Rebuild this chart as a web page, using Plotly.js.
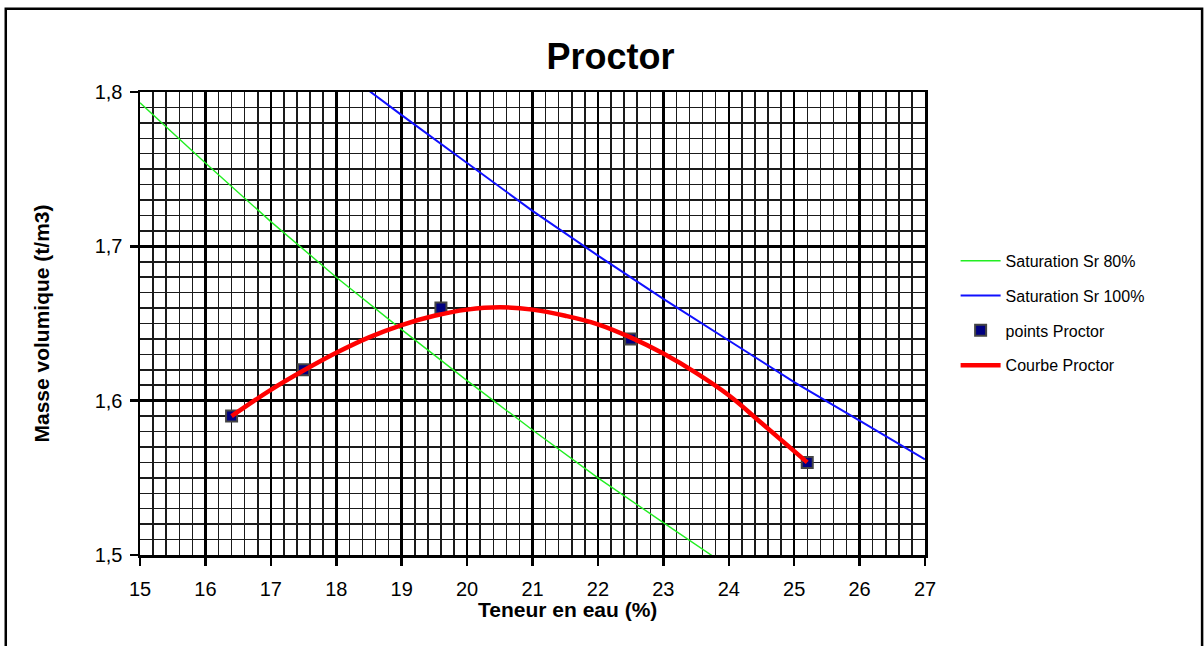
<!DOCTYPE html>
<html>
<head>
<meta charset="utf-8">
<script src="https://cdn.plot.ly/plotly-3.0.1.min.js"></script>
<style>
  html, body { margin: 0; padding: 0; background: #fff; }
  #chart { width: 1204px; height: 646px; }
</style>
</head>
<body>
<div id="chart"></div>
<script>
// Saturation Sr 80%
const sat80W = [15, 16, 17, 18, 19, 20, 21, 22, 23, 23.8];
const sat80D = [1.793, 1.754, 1.716, 1.680, 1.646, 1.613, 1.581, 1.550, 1.521, 1.498];
// Saturation Sr 100%
const sat100W = [18.4, 19, 20, 21, 22, 23, 24, 25, 26, 27];
const sat100D = [1.804, 1.785, 1.754, 1.723, 1.694, 1.666, 1.639, 1.612, 1.587, 1.562];
// points Proctor
const pointsW = [16.4, 17.5, 19.6, 22.5, 25.2];
const pointsD = [1.59, 1.62, 1.66, 1.64, 1.56];
// Courbe Proctor
const curveW = [16.4, 17.0, 17.5, 18.0, 18.5, 19.0, 19.5, 20.0, 20.5, 21.0, 21.5, 22.0, 22.5, 23.0, 23.5, 24.0, 24.5, 25.2];
const curveD = [1.590, 1.607, 1.6195, 1.631, 1.641, 1.649, 1.655, 1.659, 1.6605, 1.659, 1.655, 1.6495, 1.641, 1.6305, 1.618, 1.6035, 1.5855, 1.560];
// tick values
const xTicks = [15, 16, 17, 18, 19, 20, 21, 22, 23, 24, 25, 26, 27];
const yTicks = [1.5, 1.6, 1.7, 1.8];

const traces = [
  { x: sat80W, y: sat80D, name: 'Saturation Sr 80%', mode: 'lines', legendgroup: 'a', legendrank: 1,
    line: { color: '#22ee22', width: 1.4 } },
  { x: sat100W, y: sat100D, name: 'Saturation Sr 100%', mode: 'lines', legendgroup: 'b', legendrank: 2,
    line: { color: '#1010ff', width: 2 } },
  { x: pointsW, y: pointsD, name: 'points Proctor', mode: 'markers', legendgroup: 'c', legendrank: 3,
    marker: { symbol: 'square', size: 11, color: '#000080', line: { color: '#444444', width: 2 } } },
  { x: curveW, y: curveD, name: 'Courbe Proctor', mode: 'lines', legendgroup: 'd', legendrank: 4,
    line: { color: '#ff0000', width: 4.5, shape: 'spline', smoothing: 1.1 } }
];

const fontFam = 'Liberation Sans, Arial, sans-serif';
const layout = {
  width: 1204, height: 646,
  margin: { l: 140, r: 279, t: 92, b: 91 },
  paper_bgcolor: '#ffffff', plot_bgcolor: '#ffffff',
  separators: ',.',
  font: { family: fontFam, color: '#000' },
  title: { text: '<b>Proctor</b>', x: 0.507, xref: 'container', xanchor: 'center',
           y: 0.912, yref: 'container', yanchor: 'middle',
           font: { size: 36, family: fontFam, color: '#000' } },
  showlegend: true,
  legend: { x: 1.039, xanchor: 'left', y: 0.672, yanchor: 'top',
            font: { size: 16, family: fontFam, color: '#000' },
            tracegroupgap: 11, traceorder: 'grouped', itemwidth: 40,
            bgcolor: 'rgba(0,0,0,0)' },
  xaxis: {
    range: [15, 27], tickvals: xTicks, ticks: 'outside', ticklen: 8, tickwidth: 2.5, tickcolor: '#000',
    showline: true, linecolor: '#000', linewidth: 2.5, mirror: true,
    showgrid: true, gridcolor: '#000', gridwidth: 2.5, zeroline: false,
    minor: { dtick: 0.2, showgrid: true, gridcolor: '#1a1a1a', gridwidth: 1.5 },
    tickfont: { size: 20, family: fontFam, color: '#000' }, ticklabelstandoff: 6,
    title: { text: '', font: { size: 21, family: fontFam } }
  },
  yaxis: {
    range: [1.5, 1.8], tickvals: yTicks, tickformat: '.1f', ticks: 'outside', ticklen: 8, tickwidth: 2.5, tickcolor: '#000',
    showline: true, linecolor: '#000', linewidth: 2.5, mirror: true,
    showgrid: true, gridcolor: '#000', gridwidth: 2.5, zeroline: false,
    minor: { dtick: 0.01, showgrid: true, gridcolor: '#1a1a1a', gridwidth: 1.5 },
    tickfont: { size: 20, family: fontFam, color: '#000' }, ticklabelstandoff: 3,
    title: { text: '<b>Masse volumique (t/m3)</b>', standoff: 40, font: { size: 21, family: fontFam, color: '#000' } }
  },
  annotations: [
    { text: '<b>Teneur en eau (%)</b>', xref: 'paper', yref: 'paper', x: 0.545, y: -0.117,
      xanchor: 'center', yanchor: 'middle', showarrow: false,
      font: { size: 21, family: fontFam, color: '#000' } }
  ],
  shapes: [
    { type: 'rect', xref: 'paper', yref: 'paper', x0: -0.171, x1: 1.353, y0: -0.21, y1: 1.18,
      line: { color: '#000', width: 2.5 }, fillcolor: 'rgba(0,0,0,0)', layer: 'above' }
  ]
};

Plotly.newPlot('chart', traces, layout, { displayModeBar: false, staticPlot: true });
</script>
</body>
</html>
